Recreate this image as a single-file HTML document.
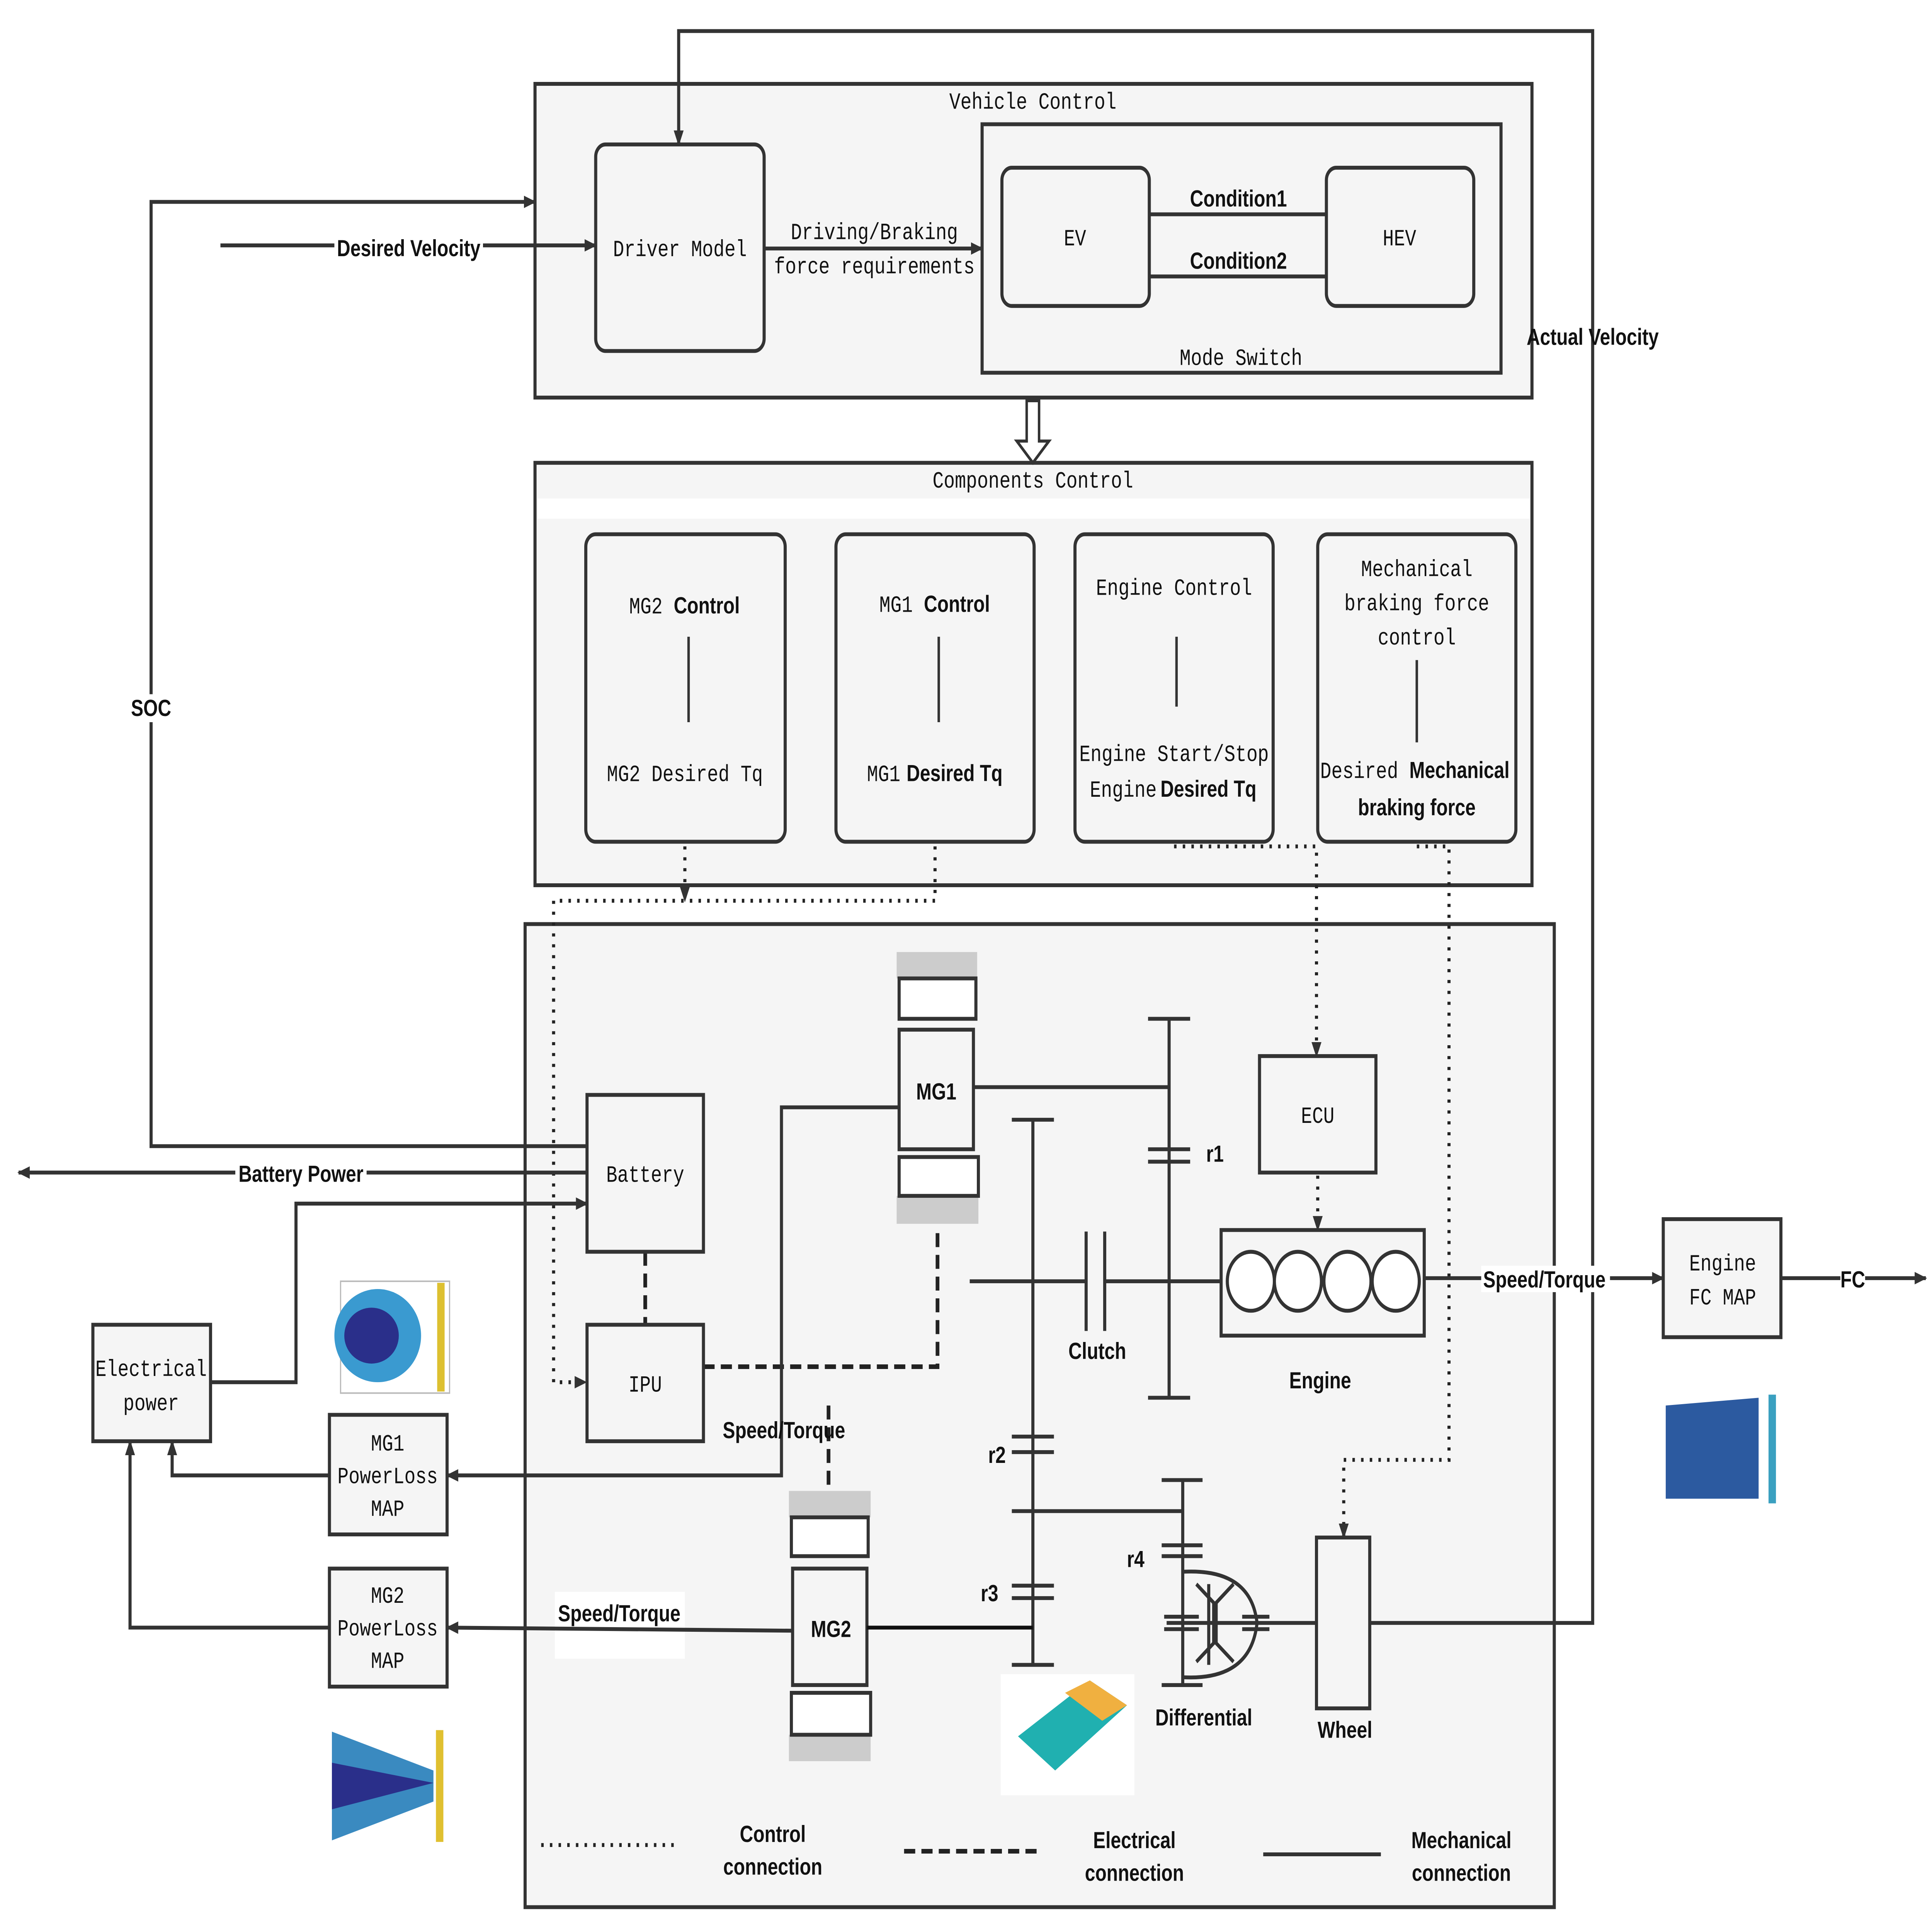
<!DOCTYPE html>
<html><head><meta charset="utf-8"><style>
html,body{margin:0;padding:0;background:#fff;overflow:hidden;width:100%;height:100%;}
svg{display:block;position:absolute;left:0;top:0;width:100vw;height:100vh;}
.m{font-family:"Liberation Mono",monospace;font-size:15px;fill:#111;}
.b{font-family:"Liberation Sans",sans-serif;font-size:15px;font-weight:bold;fill:#111;}
</style></head><body>
<svg viewBox="0 0 1560 1244" preserveAspectRatio="none" xmlns="http://www.w3.org/2000/svg">
<defs>
<marker id="a" markerWidth="10" markerHeight="10" refX="9" refY="5" orient="auto" markerUnits="userSpaceOnUse"><path d="M0,1 L10,5 L0,9 Z" fill="#333"/></marker>
</defs>
<g stroke="#333" stroke-width="2.5" fill="#f5f5f5">
<rect x="432" y="54" width="805" height="202"/>
<rect x="481" y="93" width="136" height="133" rx="8"/>
<rect x="793" y="80" width="419" height="160"/>
<rect x="809" y="108" width="119" height="89" rx="8"/>
<rect x="1071" y="108" width="119" height="89" rx="8"/>
<rect x="432" y="298" width="805" height="272"/>
</g>
<rect x="434" y="321" width="801" height="13" fill="#fff"/>
<g stroke="#333" stroke-width="2.5" fill="#f5f5f5">
<rect x="473" y="344" width="161" height="198" rx="8"/>
<rect x="675" y="344" width="160" height="198" rx="8"/>
<rect x="868" y="344" width="160" height="198" rx="8"/>
<rect x="1064" y="344" width="160" height="198" rx="8"/>
<rect x="424" y="595" width="831" height="633"/>
</g>
<g fill="none" stroke="#333" stroke-width="2.5">
<line x1="928" y1="138" x2="1071" y2="138"/><line x1="928" y1="178" x2="1071" y2="178"/>
<line x1="617" y1="160" x2="793" y2="160" marker-end="url(#a)"/>
<line x1="178" y1="158" x2="481" y2="158" marker-end="url(#a)"/>
<polyline points="473,738 122,738 122,130 432,130" marker-end="url(#a)"/>
<polyline points="1106,1045 1286,1045 1286,20 548,20 548,93" marker-end="url(#a)"/>
<line x1="556" y1="410" x2="556" y2="465" stroke-width="2"/>
<line x1="758" y1="410" x2="758" y2="465" stroke-width="2"/>
<line x1="950" y1="410" x2="950" y2="455" stroke-width="2"/>
<line x1="1144" y1="425" x2="1144" y2="478" stroke-width="2"/>
</g>
<path d="M829,258 h10 v26 h8 l-13,14 l-13,-14 h8 z" fill="#fff" stroke="#333" stroke-width="2"/>
<g fill="none" stroke="#222" stroke-width="2.5" stroke-dasharray="2,5">
<line x1="553" y1="545" x2="553" y2="580" marker-end="url(#a)"/>
<polyline points="755,545 755,580 447,580 447,890 473,890" marker-end="url(#a)"/>
<polyline points="948,545 1063,545 1063,680" marker-end="url(#a)"/>
<line x1="1064" y1="757" x2="1064" y2="792" marker-end="url(#a)"/>
<polyline points="1144,545 1170,545 1170,940 1085,940 1085,990" marker-end="url(#a)"/>
<line x1="437" y1="1188" x2="545" y2="1188"/>
</g>
<g fill="none" stroke="#222" stroke-width="3" stroke-dasharray="9,5">
<line x1="521" y1="806" x2="521" y2="853"/>
<polyline points="568,880 757,880 757,790"/>
<line x1="669" y1="905" x2="669" y2="960"/>
<line x1="730" y1="1192" x2="838" y2="1192"/>
</g>
<rect x="724" y="613" width="65" height="17" fill="#ccc"/>
<rect x="724" y="770" width="66" height="18" fill="#ccc"/>
<rect x="637" y="960" width="66" height="17" fill="#ccc"/>
<rect x="637" y="1117" width="66" height="17" fill="#ccc"/>
<g stroke="#333" stroke-width="2.5" fill="#f5f5f5">
<rect x="726" y="630" width="62" height="26" fill="#fff"/>
<rect x="726" y="663" width="60" height="77"/>
<rect x="726" y="745" width="64" height="25" fill="#fff"/>
<rect x="639" y="977" width="62" height="25" fill="#fff"/>
<rect x="640" y="1010" width="60" height="75"/>
<rect x="639" y="1090" width="64" height="27" fill="#fff"/>
<rect x="474" y="705" width="94" height="101"/>
<rect x="474" y="853" width="94" height="75"/>
<rect x="1017" y="680" width="94" height="75"/>
<rect x="986" y="792" width="164" height="68"/>
<rect x="1343" y="785" width="95" height="76"/>
<rect x="1063" y="990" width="43" height="110"/>
<rect x="75" y="853" width="95" height="75"/>
<rect x="266" y="911" width="95" height="77"/>
<rect x="266" y="1010" width="95" height="76"/>
</g>
<g fill="#fff" stroke="#333" stroke-width="2.5">
<circle cx="1010" cy="825" r="19"/><circle cx="1048" cy="825" r="19"/><circle cx="1088" cy="825" r="19"/><circle cx="1127" cy="825" r="19"/>
</g>
<rect x="448" y="1025" width="105" height="43" fill="#fff"/>
<g fill="none" stroke="#333" stroke-width="2.5">
<polyline points="726,713 631,713 631,950 361,950" marker-end="url(#a)"/>
<line x1="786" y1="700" x2="944" y2="700"/>
<line x1="944" y1="656" x2="944" y2="900"/>
<line x1="927" y1="656" x2="961" y2="656"/><line x1="927" y1="900" x2="961" y2="900"/>
<line x1="927" y1="740" x2="961" y2="740"/><line x1="927" y1="748" x2="961" y2="748"/>
<line x1="783" y1="825" x2="877" y2="825"/><line x1="892" y1="825" x2="986" y2="825"/>
<line x1="877" y1="793" x2="877" y2="857"/><line x1="892" y1="793" x2="892" y2="857"/>
<line x1="834" y1="721" x2="834" y2="1072"/>
<line x1="817" y1="721" x2="851" y2="721"/><line x1="817" y1="1072" x2="851" y2="1072"/>
<line x1="817" y1="925" x2="851" y2="925"/><line x1="817" y1="935" x2="851" y2="935"/>
<line x1="817" y1="1021" x2="851" y2="1021"/><line x1="817" y1="1029" x2="851" y2="1029"/>
<line x1="817" y1="973" x2="955" y2="973"/>
<line x1="955" y1="953" x2="955" y2="1085"/>
<line x1="938" y1="953" x2="971" y2="953"/><line x1="938" y1="1085" x2="971" y2="1085"/>
<line x1="938" y1="995" x2="971" y2="995"/><line x1="938" y1="1002" x2="971" y2="1002"/>
<path d="M956,1012 Q1010,1010 1015,1045 Q1010,1082 956,1080"/>
<line x1="942" y1="1045" x2="1063" y2="1045"/>
<line x1="940" y1="1041" x2="968" y2="1041"/><line x1="940" y1="1049" x2="968" y2="1049"/>
<line x1="1003" y1="1041" x2="1025" y2="1041"/><line x1="1003" y1="1049" x2="1025" y2="1049"/>
<line x1="976" y1="1020" x2="976" y2="1072"/>
<path d="M966,1020 l14,12 v26 l-14,12 M996,1020 l-14,12 v26 l14,12"/>
<line x1="700" y1="1048" x2="834" y2="1048" stroke="#111"/>
<line x1="640" y1="1050" x2="361" y2="1048" marker-end="url(#a)"/>
<line x1="1150" y1="823" x2="1343" y2="823" marker-end="url(#a)"/>
<line x1="1438" y1="823" x2="1555" y2="823" marker-end="url(#a)"/>
<line x1="474" y1="755" x2="15" y2="755" marker-end="url(#a)"/>
<polyline points="170,890 239,890 239,775 474,775" marker-end="url(#a)"/>
<polyline points="266,950 139,950 139,928" marker-end="url(#a)"/>
<polyline points="266,1048 105,1048 105,928" marker-end="url(#a)"/>
<line x1="1020" y1="1194" x2="1115" y2="1194"/>
</g>
<rect x="275" y="825" width="88" height="72" fill="#fff" stroke="#bbb"/><ellipse cx="305" cy="860" rx="35" ry="30" fill="#3a9ad0"/><ellipse cx="300" cy="860" rx="22" ry="18" fill="#2a2f8a"/><rect x="353" y="826" width="6" height="70" fill="#ddc030"/>
<rect x="1338" y="897" width="100" height="72" fill="#fff"/><path d="M1345,905 L1420,900 L1420,965 L1345,965 Z" fill="#2c5aa0"/><rect x="1428" y="898" width="6" height="70" fill="#3aa0c0"/>
<rect x="258" y="1112" width="100" height="78" fill="#fff"/><path d="M268,1115 L350,1140 L350,1160 L268,1185 Z" fill="#3a8ac0"/><path d="M268,1135 L350,1148 L268,1165 Z" fill="#2a2f8a"/><rect x="352" y="1114" width="6" height="72" fill="#e0c030"/>
<rect x="808" y="1078" width="108" height="78" fill="#fff"/><path d="M822,1118 L880,1082 L910,1098 L852,1140 Z" fill="#20b0b0"/><path d="M860,1090 L880,1082 L910,1098 L890,1108 Z" fill="#f0b040"/>
<g class="m" text-anchor="middle">
<text x="834" y="70">Vehicle Control</text>
<text x="549" y="165">Driver Model</text>
<text x="706" y="154">Driving/Braking</text>
<text x="706" y="176">force requirements</text>
<text x="868" y="158">EV</text>
<text x="1130" y="158">HEV</text>
<text x="1002" y="235">Mode Switch</text>
<text x="834" y="314">Components Control</text>
<text x="553" y="503">MG2 Desired Tq</text>
<text x="948" y="383">Engine Control</text>
<text x="948" y="490">Engine Start/Stop</text>
<text x="1144" y="371">Mechanical</text>
<text x="1144" y="393">braking force</text>
<text x="1144" y="415">control</text>
<text x="521" y="761">Battery</text>
<text x="521" y="896">IPU</text>
<text x="1064" y="723">ECU</text>
<text x="1391" y="818">Engine</text>
<text x="1391" y="840">FC MAP</text>
<text x="122" y="886">Electrical</text>
<text x="122" y="908">power</text>
<text x="313" y="934">MG1</text><text x="313" y="955">PowerLoss</text><text x="313" y="976">MAP</text>
<text x="313" y="1032">MG2</text><text x="313" y="1053">PowerLoss</text><text x="313" y="1074">MAP</text>
</g>
<g class="m"><text x="508" y="395">MG2</text><text x="710" y="394">MG1</text><text x="700" y="503">MG1</text><text x="880" y="513">Engine</text><text x="1066" y="501">Desired</text></g>
<g class="b"><text x="544" y="395">Control</text><text x="746" y="394">Control</text><text x="732" y="503">Desired Tq</text><text x="937" y="513">Desired Tq</text><text x="1138" y="501">Mechanical</text></g>
<g class="b" text-anchor="middle">
<text x="1144" y="525">braking force</text>
<rect x="270" y="150" width="120" height="18" fill="#fff"/>
<text x="330" y="165">Desired Velocity</text>
<text x="1000" y="133">Condition1</text>
<text x="1000" y="173">Condition2</text>
<text x="1286" y="222">Actual Velocity</text>
<rect x="106" y="447" width="32" height="18" fill="#fff"/>
<text x="122" y="461">SOC</text>
<rect x="190" y="747" width="106" height="17" fill="#fff"/>
<text x="243" y="761">Battery Power</text>
<text x="756" y="708">MG1</text>
<text x="671" y="1054">MG2</text>
<text x="981" y="748">r1</text>
<text x="805" y="942">r2</text>
<text x="799" y="1031">r3</text>
<text x="917" y="1009">r4</text>
<text x="886" y="875">Clutch</text>
<text x="1066" y="894">Engine</text>
<text x="972" y="1111">Differential</text>
<text x="1086" y="1119">Wheel</text>
<rect x="1196" y="815" width="104" height="17" fill="#fff"/>
<text x="1247" y="829">Speed/Torque</text>
<rect x="1486" y="815" width="20" height="17" fill="#fff"/>
<text x="1496" y="829">FC</text>
<text x="633" y="926">Speed/Torque</text>
<text x="500" y="1044">Speed/Torque</text>
<text x="624" y="1186">Control</text><text x="624" y="1207">connection</text>
<text x="916" y="1190">Electrical</text><text x="916" y="1211">connection</text>
<text x="1180" y="1190">Mechanical</text><text x="1180" y="1211">connection</text>
</g>
</svg>
</body></html>
